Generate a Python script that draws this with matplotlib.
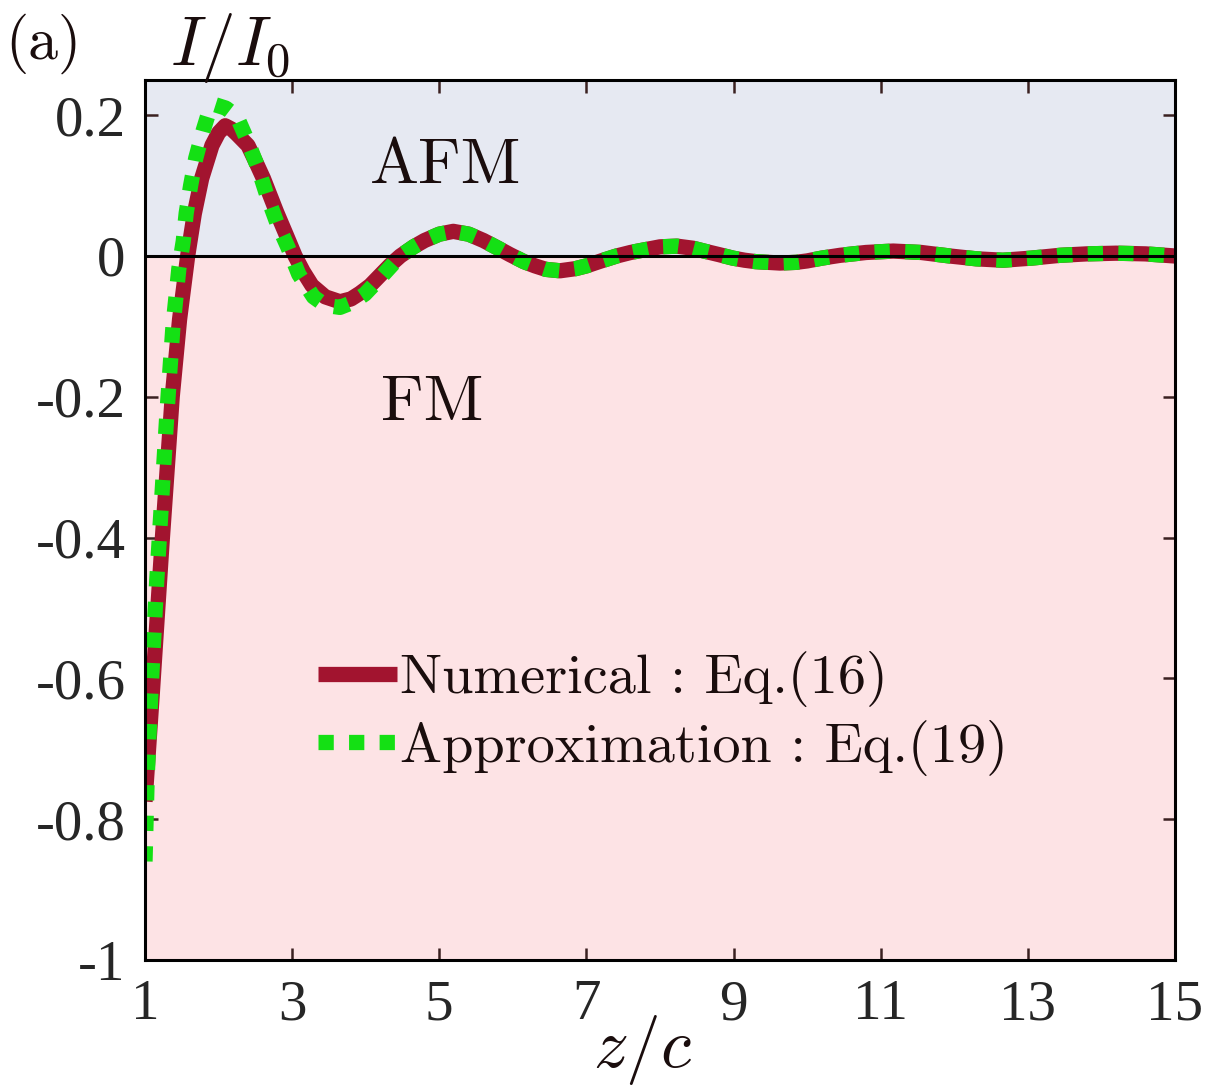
import matplotlib
matplotlib.use("Agg")
import matplotlib.pyplot as plt

# values
z_num = [1.0, 1.1, 1.23, 1.37, 1.47, 1.58, 1.67, 1.77, 1.91, 2.0, 2.09, 2.18, 2.25,
         2.4, 2.5, 2.61, 2.79, 2.92, 3.04, 3.15, 3.27, 3.45, 3.65, 3.8, 3.92, 4.06,
         4.19, 4.33, 4.47, 4.65, 4.8, 5.0, 5.19, 5.4, 5.6, 5.8, 5.96, 6.15, 6.3,
         6.45, 6.64, 6.85, 7.0, 7.2, 7.41, 7.6, 7.8, 8.0, 8.23, 8.45, 8.6, 8.8,
         8.99, 9.15, 9.3, 9.63, 9.85, 10.0, 10.2, 10.45, 10.8, 11.17, 11.55,
         11.94, 12.3, 12.66, 13.05, 13.44, 13.8, 14.2, 14.6, 15.0]
i_num = [-0.775, -0.62, -0.41, -0.20, -0.09, 0.0, 0.06, 0.11, 0.157, 0.175, 0.185, 0.18, 0.173,
         0.157, 0.135, 0.11, 0.062, 0.03, 0.0, -0.022, -0.042, -0.058, -0.065, -0.061, -0.053, -0.042,
         -0.028, -0.013, 0.0, 0.013, 0.022, 0.031, 0.035, 0.031, 0.022, 0.011, 0.002, -0.008, -0.014,
         -0.019, -0.021, -0.018, -0.014, -0.007, 0.0, 0.005, 0.009, 0.013, 0.014, 0.011, 0.007, 0.002,
         -0.003, -0.006, -0.008, -0.01, -0.009, -0.007, -0.003, 0.001, 0.005, 0.007, 0.005,
         0.0, -0.004, -0.006, -0.003, 0.001, 0.003, 0.004, 0.003, 0.0]

z_app = [1.0, 1.03, 1.08, 1.16, 1.23, 1.30, 1.38, 1.46, 1.52, 1.56, 1.62, 1.69,
         1.79, 1.87, 1.95, 2.1, 2.25, 2.40, 2.54, 2.66, 2.79, 2.94, 3.09, 3.29,
         3.45, 3.65, 3.82, 3.99, 4.19, 4.33, 4.47, 4.65, 4.8, 5.0, 5.19, 5.4, 5.6,
         5.8, 5.96, 6.15, 6.3, 6.45, 6.64, 6.85, 7.0, 7.2, 7.41, 7.6, 7.8, 8.0,
         8.23, 8.45, 8.6, 8.8, 8.99, 9.15, 9.3, 9.63, 9.85, 10.0, 10.2, 10.45,
         10.8, 11.17, 11.55, 11.94, 12.3, 12.66, 13.05, 13.44, 13.8, 14.2, 14.6, 15.0]
i_app = [-0.86, -0.74, -0.62, -0.46, -0.34, -0.22, -0.10, -0.018, 0.021, 0.061, 0.10, 0.139,
         0.178, 0.205, 0.215, 0.21, 0.198, 0.162, 0.124, 0.085, 0.048, 0.013, -0.026, -0.058,
         -0.07, -0.073, -0.066, -0.054, -0.032, -0.016, 0.0, 0.013, 0.022, 0.031, 0.035, 0.031, 0.022,
         0.011, 0.002, -0.008, -0.014, -0.019, -0.021, -0.018, -0.014, -0.007, 0.0, 0.005, 0.009, 0.013,
         0.014, 0.011, 0.007, 0.002, -0.003, -0.006, -0.008, -0.01, -0.009, -0.007, -0.003, 0.001,
         0.005, 0.007, 0.005, 0.0, -0.004, -0.006, -0.003, 0.001, 0.003, 0.004, 0.003, 0.0]

x_ticks = [1, 3, 5, 7, 9, 11, 13, 15]
y_ticks = [-1, -0.8, -0.6, -0.4, -0.2, 0, 0.2]
y_tick_labels = ["-1", "-0.8", "-0.6", "-0.4", "-0.2", "0", "0.2"]

plt.rcParams['mathtext.fontset'] = 'cm'
plt.rcParams['axes.unicode_minus'] = False

fig = plt.figure(figsize=(12.17, 10.89), dpi=100)
ax = fig.add_axes([145 / 1217, 1 - 960 / 1089, 1030 / 1217, 880 / 1089])

# AFM / FM regions
ax.axhspan(0, 0.25, color='#E6E9F2', zorder=0, lw=0)
ax.axhspan(-1, 0, color='#FDE3E5', zorder=0, lw=0)

ax.plot(z_num, i_num, color='#A2142F', lw=11, solid_capstyle='butt',
        solid_joinstyle='round', label='Numerical : Eq.(16)', zorder=2)
ax.plot(z_app, i_app, color='#14E014', lw=11, linestyle=(0, (1, 1)),
        dash_capstyle='butt', label='Approximation : Eq.(19)', zorder=3)
ax.axhline(0, color='black', lw=2.2, zorder=4)

ax.set_xlim(1, 15)
ax.set_ylim(-1, 0.25)
ax.set_xticks(x_ticks)
ax.set_yticks(y_ticks)
ax.set_yticklabels(y_tick_labels)
ax.tick_params(direction='in', length=9, width=1.8, color='#3a2020',
               top=True, right=True, labelsize=41, labelcolor='#262626', pad=14)
for lab in ax.get_xticklabels() + ax.get_yticklabels():
    lab.set_fontfamily('Liberation Serif')
for sp in ax.spines.values():
    sp.set_linewidth(2.2)
    sp.set_zorder(5)

txt_color = '#1a0d0d'
ax.text(5.08, 0.127, 'AFM', fontfamily='cmr10', fontsize=47, color=txt_color,
        ha='center', va='center')
ax.text(4.91, -0.21, 'FM', fontfamily='cmr10', fontsize=47, color=txt_color,
        ha='center', va='center')

leg = ax.legend(loc='center left', bbox_to_anchor=(0.168, 0.28), frameon=False,
                prop={'family': 'cmr10', 'size': 40.5}, handlelength=1.4,
                handletextpad=0.05, borderpad=0, borderaxespad=0, labelspacing=0.22,
                labelcolor=txt_color)

fig.text(0.004, 1 - 14 / 1089, '(a)', fontfamily='cmr10', fontsize=43,
         color=txt_color, va='top', ha='left')
fig.text(170 / 1217, 1 - 65 / 1089, r'$I/I_0$', fontsize=50, color=txt_color,
         va='baseline', ha='left')
fig.text(642 / 1217, 1 - 1050 / 1089, r'$z/c$', fontsize=50, color=txt_color,
         va='center', ha='center')

fig.savefig('out.png', dpi=100)
